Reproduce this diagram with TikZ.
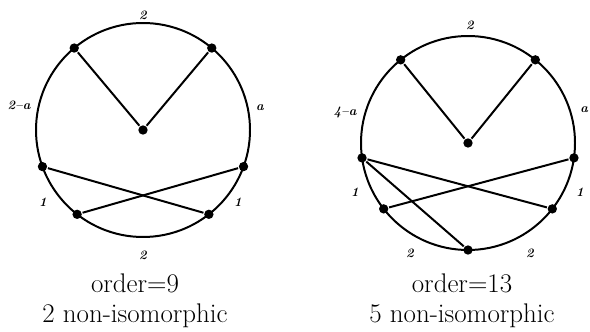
\documentclass[tikz,border=0pt]{standalone}
\usetikzlibrary{calc}

\begin{document}
\begin{tikzpicture}[
  x=0.03cm, y=0.03cm,
  line width=1.7pt,
  vtx/.style  = {circle, fill=black, inner sep=0pt, minimum size=2.8mm},
  edge/.style = {line width=1.7pt},
  lbl/.style  = {font=\fontsize{11}{12}\selectfont\bfseries\itshape, inner sep=0pt},
  capt/.style = {font=\fontsize{23}{26}\selectfont, anchor=base, inner sep=0pt},
]
\useasboundingbox (0,0) rectangle (590,331);

% ---------- left graph : order 9 ----------
\coordinate (O1) at (143,201);
\draw (O1) circle [radius=107];
\node[vtx] (Lc)  at (O1) {};
\node[vtx] (Lt1) at ($(O1)+(130:107)$) {};
\node[vtx] (Lt2) at ($(O1)+(50:107)$) {};
\node[vtx] (Lm1) at ($(O1)+(200:107)$) {};
\node[vtx] (Lm2) at ($(O1)+(340:107)$) {};
\node[vtx] (Lb1) at ($(O1)+(232:107)$) {};
\node[vtx] (Lb2) at ($(O1)+(308:107)$) {};

\draw[edge] (Lt1) -- (Lc);
\draw[edge] (Lt2) -- (Lc);
\draw[edge] (Lm1) -- (Lb2);
\draw[edge] (Lm2) -- (Lb1);

\node[lbl] (Ltop) at (143,316) {2};
\node[lbl] (Lla)  at (19,226)  {2--a};
\node[lbl] (Lra)  at (260,223) {a};
\node[lbl] (Ll1)  at (43,129)  {1};
\node[lbl] (Lr1)  at (238,129) {1};
\node[lbl] (Lbot) at (143,76)  {2};

\node[capt] (Lord) at (135,39) {order{=}9};
\node[capt] (Lnum) at (135,9)  {2 non-isomorphic};

% ---------- right graph : order 13 ----------
\coordinate (O2) at (468,188);
\draw (O2) circle [radius=107];
\node[vtx] (Rc)  at (O2) {};
\node[vtx] (Rt1) at ($(O2)+(129:107)$) {};
\node[vtx] (Rt2) at ($(O2)+(51:107)$) {};
\node[vtx] (Rm1) at ($(O2)+(188:107)$) {};
\node[vtx] (Rm2) at ($(O2)+(352:107)$) {};
\node[vtx] (Rb1) at ($(O2)+(218:107)$) {};
\node[vtx] (Rb2) at ($(O2)+(322:107)$) {};
\node[vtx] (Rbt) at ($(O2)+(270:107)$) {};

\draw[edge] (Rt1) -- (Rc);
\draw[edge] (Rt2) -- (Rc);
\draw[edge] (Rm1) -- (Rb2);
\draw[edge] (Rm1) -- (Rbt);
\draw[edge] (Rm2) -- (Rb1);

\node[lbl] (Rtop) at (470,306) {2};
\node[lbl] (Rla)  at (345,219) {4--a};
\node[lbl,anchor=east] (Rra) at (589,221) {a};
\node[lbl] (Rl1)  at (355,139) {1};
\node[lbl] (Rr1)  at (580,139) {1};
\node[lbl] (Rbl)  at (410,78)  {2};
\node[lbl] (Rbr)  at (530,78)  {2};

\node[capt] (Rord) at (462,39) {order{=}13};
\node[capt] (Rnum) at (462,9)  {5 non-isomorphic};

\end{tikzpicture}
\end{document}
